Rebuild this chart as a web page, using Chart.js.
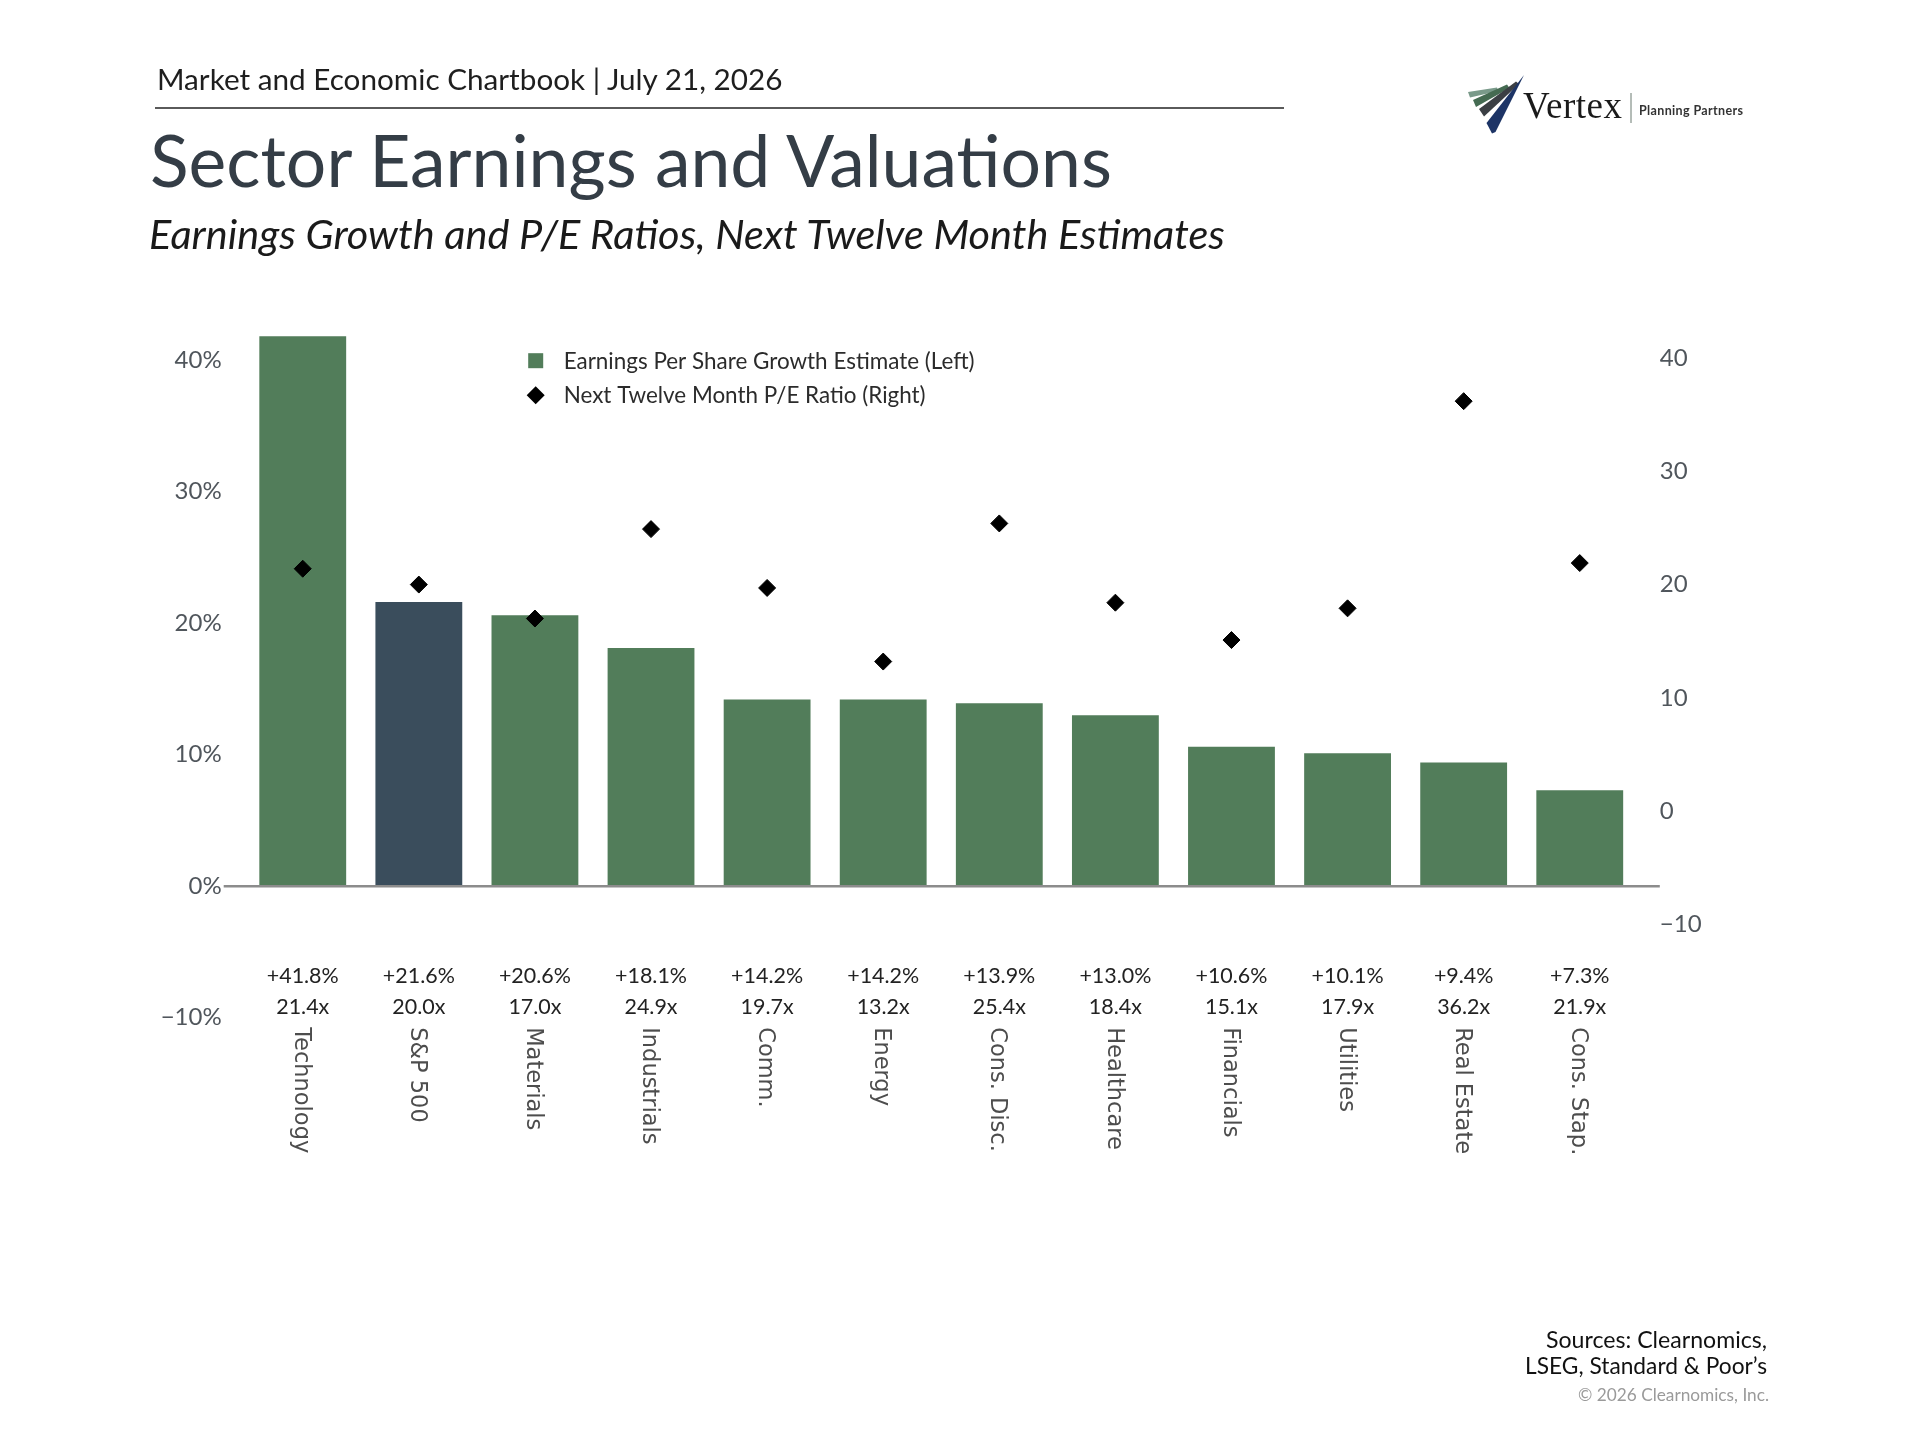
<!DOCTYPE html>
<html><head><meta charset="utf-8">
<script src="https://cdn.jsdelivr.net/npm/chart.js@4.4.1/dist/chart.umd.min.js"></script>
<style>
html,body{margin:0;padding:0;background:#fff;}
body{width:1918px;height:1439px;position:relative;overflow:hidden;font-family:Lato,'Noto Sans',sans-serif;}
.t{position:absolute;white-space:nowrap;line-height:100px;height:100px;}
.r{text-align:right;}
#chart{position:absolute;left:0;top:0;}
</style></head><body>
<canvas id="chart" width="1918" height="1439"></canvas>
<div class="t" data-w="627" style="left:157px;top:29px;color:#1e1e1e;font-size:28px;">Market and Economic Chartbook | July 21, 2026</div>
<div style="position:absolute;left:155px;top:106.5px;width:1129px;height:2px;background:#5a5a5a"></div>
<div class="t" data-w="966" style="left:150px;top:108.5px;color:#343d46;font-size:70px;">Sector Earnings and Valuations</div>
<div class="t" data-w="1077" style="left:149px;top:182.6px;color:#1a1a1a;font-size:38px;font-style:italic;">Earnings Growth and P/E Ratios, Next Twelve Month Estimates</div>
<div class="t r" data-w="221" style="right:151px;top:1289px;color:#111;font-size:22px;">Sources: Clearnomics,</div>
<div class="t r" data-w="242" style="right:151px;top:1316px;color:#111;font-size:22px;">LSEG, Standard &amp; Poor’s</div>
<div class="t r" data-w="191" style="right:149px;top:1345px;color:#9a9a9a;font-size:17px;">© 2026 Clearnomics, Inc.</div>
<svg style="position:absolute;left:1450px;top:60px" width="340" height="90" viewBox="0 0 340 90">
<polygon points="18,32 47,27.5 48.5,31 20,37.5" fill="#7a9a8a"/>
<polygon points="23,40 57,24.5 59.5,28 26,47" fill="#456b52"/>
<polygon points="29,49 66,21.5 69,24 34,56.5" fill="#3b3f44"/>
<polygon points="36.5,63 74,15 45.5,72 42,73.5" fill="#1d3466"/>
<text x="73" y="58" font-family="Liberation Serif" font-size="37" textLength="99" fill="#1a1a1a">Vertex</text>
<line x1="181" y1="33" x2="181" y2="63" stroke="#6a7a70" stroke-width="1"/>
<text x="189" y="55" font-family="Lato" font-weight="700" font-size="12.5" textLength="104" fill="#333">Planning Partners</text>
</svg>
<script>
// ---- data ----
const categories = ['Technology','S&P 500','Materials','Industrials','Comm.','Energy','Cons. Disc.','Healthcare','Financials','Utilities','Real Estate','Cons. Stap.'];
const epsGrowth = [41.8,21.6,20.6,18.1,14.2,14.2,13.9,13.0,10.6,10.1,9.4,7.3];
const peRatio = [21.4,20.0,17.0,24.9,19.7,13.2,25.4,18.4,15.1,17.9,36.2,21.9];
const leftTicks = [-10,0,10,20,30,40];
const rightTicks = [-10,0,10,20,30,40];
const seriesNames = ['Earnings Per Share Growth Estimate (Left)','Next Twelve Month P/E Ratio (Right)'];
const highlightCategory = 'S&P 500';

// ---- styles ----
const GREEN = '#527d5a', SLATE = '#3a4d5c';
const TICK_FONT = {family:'Lato', size:24};
const TICK_COLOR = '#50565c';

// fit html text widths
const mctx = document.createElement('canvas').getContext('2d');
document.querySelectorAll('[data-w]').forEach(el => {
  const cs = getComputedStyle(el);
  const fs = parseFloat(cs.fontSize);
  mctx.font = cs.fontStyle + ' ' + cs.fontWeight + ' ' + fs + 'px ' + cs.fontFamily;
  const w = mctx.measureText(el.textContent).width;
  el.style.fontSize = (fs * parseFloat(el.dataset.w) / w).toFixed(2) + 'px';
});
function fitSize(ctx, text, family, target, weight) {
  ctx.font = (weight||'') + ' 100px ' + family;
  return 100 * target / ctx.measureText(text).width;
}
const minus = v => (v < 0 ? '\u2212' : '') + Math.abs(v);

const overlay = {
  id: 'overlay',
  afterDatasetsDraw(chart) {
    const {ctx} = chart;
    const y = chart.scales.y, y2 = chart.scales.y2;
    const py = y.getPixelForValue(0);
    ctx.save();
    ctx.strokeStyle = '#8c8c8c';
    ctx.lineWidth = 2.5;
    ctx.beginPath();
    ctx.moveTo(y.right - 21, py);
    ctx.lineTo(y2.left + 22, py);
    ctx.stroke();
    ctx.restore();
  },
  afterDraw(chart) {
    const {ctx, chartArea} = chart;
    const x = chart.scales.x;
    ctx.save();
    // legend
    const lx = chartArea.left + 291, ly1 = chartArea.top + 27, ly2 = chartArea.top + 61.5;
    const ls = fitSize(ctx, seriesNames[0], 'Lato', 411);
    ctx.fillStyle = GREEN;
    ctx.fillRect(lx - 7.5, ly1 - 7.5, 15, 15);
    ctx.fillStyle = '#000';
    ctx.beginPath();
    ctx.moveTo(lx, ly2 - 9); ctx.lineTo(lx + 9, ly2); ctx.lineTo(lx, ly2 + 9); ctx.lineTo(lx - 9, ly2);
    ctx.closePath(); ctx.fill();
    ctx.font = ls.toFixed(2) + 'px Lato';
    ctx.fillStyle = '#2b2b2b';
    ctx.textAlign = 'left'; ctx.textBaseline = 'middle';
    ctx.fillText(chart.data.datasets[0].label, lx + 28, ly1 + 1);
    ctx.fillText(chart.data.datasets[1].label, lx + 28, ly2 + 1);
    // bottom labels
    const vs = fitSize(ctx, '+41.8%', 'Lato', 72);
    categories.forEach((c, i) => {
      const px = x.getPixelForValue(i);
      ctx.font = vs.toFixed(2) + 'px Lato';
      ctx.fillStyle = '#222';
      ctx.textAlign = 'center'; ctx.textBaseline = 'middle';
      ctx.fillText('+' + epsGrowth[i].toFixed(1) + '%', px, chartArea.bottom - 41.5);
      ctx.fillText(peRatio[i].toFixed(1) + 'x', px, chartArea.bottom - 11);
      ctx.save();
      ctx.translate(px - 2, chartArea.bottom + 9.5);
      ctx.rotate(Math.PI / 2);
      ctx.font = '22.5px "DejaVu Sans"';
      ctx.fillStyle = '#4d4d4d';
      ctx.textAlign = 'left'; ctx.textBaseline = 'middle';
      ctx.fillText(c, 0, 0);
      ctx.restore();
    });
    ctx.restore();
  }
};

new Chart(document.getElementById('chart'), {
  data: {
    labels: categories,
    datasets: [
      {
        type: 'bar', label: seriesNames[0], data: epsGrowth, yAxisID: 'y', order: 1,
        backgroundColor: c => categories[c.dataIndex] === highlightCategory ? SLATE : GREEN,
        categoryPercentage: 1, barPercentage: 0.748, borderWidth: 0
      },
      {
        type: 'line', label: seriesNames[1], data: peRatio, yAxisID: 'y2', order: 0,
        showLine: false, pointStyle: 'rectRot', pointRadius: 8.5, borderWidth: 1,
        backgroundColor: '#000', borderColor: '#000'
      }
    ]
  },
  options: {
    responsive: false, animation: false, devicePixelRatio: 1, events: [],
    layout: {padding: {left: 0, right: 0, top: 333.7, bottom: 421.3}},
    plugins: {legend: {display: false}, tooltip: {enabled: false}},
    scales: {
      x: {type: 'category', display: false, offset: true},
      y: {
        type: 'linear', position: 'left', min: -10, max: 42,
        afterBuildTicks: s => { s.ticks = leftTicks.map(v => ({value: v})); },
        afterFit: s => { s.width = 244.7; },
        grid: {display: false, drawTicks: false}, border: {display: false},
        ticks: {padding: 23, font: TICK_FONT, color: TICK_COLOR, callback: v => minus(v) + '%'}
      },
      y2: {
        type: 'linear', position: 'right', min: -18.26, max: 42.16,
        afterBuildTicks: s => { s.ticks = rightTicks.map(v => ({value: v})); },
        afterFit: s => { s.width = 280.2; },
        grid: {display: false, drawTicks: false}, border: {display: false},
        ticks: {padding: 22, font: TICK_FONT, color: TICK_COLOR, callback: v => minus(v)}
      }
    }
  },
  plugins: [overlay]
});
</script>
</body></html>
